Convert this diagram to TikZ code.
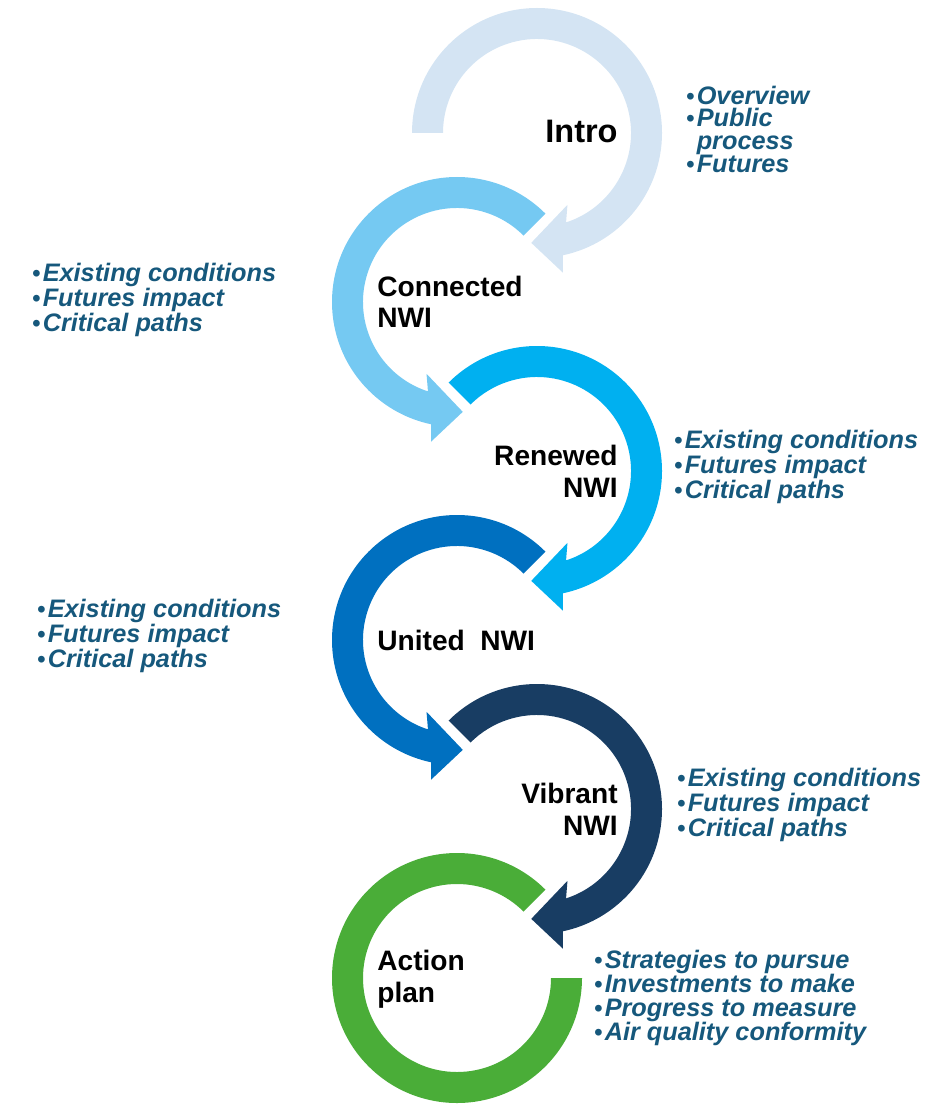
\documentclass[tikz,border=0pt]{standalone}
\usepackage{fontspec}
\setmainfont{Liberation Sans}
\usepackage{tikz}

\definecolor{introblue}{RGB}{212,228,243}
\definecolor{connblue}{RGB}{117,201,242}
\definecolor{renewblue}{RGB}{0,176,240}
\definecolor{unitblue}{RGB}{0,112,192}
\definecolor{vibnavy}{RGB}{24,61,99}
\definecolor{actgreen}{RGB}{74,173,56}
\definecolor{listteal}{RGB}{22,88,124}

% ring arrow: centre, colour, start angle, 1 = clockwise / -1 = mirrored
\newcommand{\ringarrow}[4]{%
	\fill[#2,shift={#1},xscale=#4] (#3:125) arc[start angle=#3,end angle=-78,radius=125]
		-- (-79.5:142) -- (-93:110) -- (-67:78) -- (-72:94)
		arc[start angle=-72,end angle=#3,radius=94] -- cycle;}
\newcommand{\bul}{{\upshape\fontsize{13.5}{14}\selectfont\textbullet}\kern1.2pt}
\newcommand{\listfont}[1]{\fontsize{14.4}{#1}\selectfont\bfseries\itshape\lineskiplimit=-6pt\relax}

\begin{document}
\begin{tikzpicture}[x=0.02cm,y=0.02cm,
	label node/.style={inner sep=0pt,align=left,text=black,
		font={\fontsize{16}{18}\selectfont\bfseries}},
	list node/.style={inner sep=0pt,align=left,text=listteal,
		font={\listfont{14.2}}}]

	\useasboundingbox (0,0) rectangle (941,-1111);

	% rings
	\ringarrow{(537,-133)}{introblue}{180}{1}
	\ringarrow{(457,-302)}{connblue}{135}{-1}
	\ringarrow{(537,-471)}{renewblue}{135}{1}
	\ringarrow{(457,-640)}{unitblue}{135}{-1}
	\ringarrow{(537,-809)}{vibnavy}{135}{1}
	\fill[actgreen] (457,-978) ++(45:125) arc[start angle=45,end angle=360,radius=125]
		-- ++(-31,0) arc[start angle=360,end angle=45,radius=94] -- cycle;

	% stage names
	\node[label node,anchor=west,font={\fontsize{18.5}{20}\selectfont\bfseries}] (intro) at (545,-131) {Intro};
	\node[label node,anchor=west] (connected) at (377,-302) {Connected\\NWI};
	\node[label node,anchor=east,align=right] (renewed) at (618,-471) {Renewed\\NWI};
	\node[label node,anchor=west] (united) at (377,-640) {United\ \ NWI};
	\node[label node,anchor=east,align=right] (vibrant) at (618,-809) {Vibrant\\NWI};
	\node[label node,anchor=west] (action) at (377,-979) {Action\\plan};

	% bullet lists
	\node[list node,anchor=west,font={\listfont{12.9}}] (introlist) at (686,-129)
		{\bul Overview\\\bul Public\\\hphantom{\bul}process\\\bul Futures};
	\node[list node,anchor=west] (connlist) at (32,-300)
		{\bul Existing conditions\\\bul Futures impact\\\bul Critical paths};
	\node[list node,anchor=west] (renewlist) at (674,-467)
		{\bul Existing conditions\\\bul Futures impact\\\bul Critical paths};
	\node[list node,anchor=west] (unitlist) at (37,-636)
		{\bul Existing conditions\\\bul Futures impact\\\bul Critical paths};
	\node[list node,anchor=west] (viblist) at (677,-805)
		{\bul Existing conditions\\\bul Futures impact\\\bul Critical paths};
	\node[list node,anchor=west,font={\listfont{13.8}}] (actlist) at (594,-998)
		{\bul Strategies to pursue\\\bul Investments to make\\\bul Progress to measure\\\bul Air quality conformity};

\end{tikzpicture}
\end{document}
